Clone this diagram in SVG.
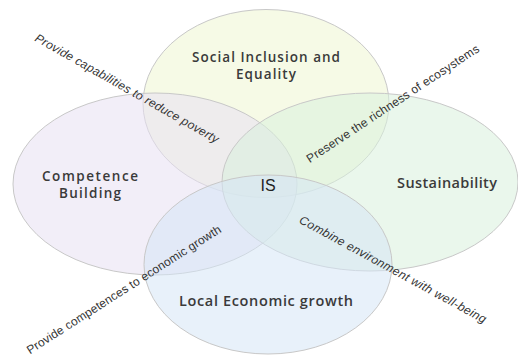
<svg xmlns="http://www.w3.org/2000/svg" width="518" height="357" viewBox="0 0 518 357">
  <style>
    .ell { stroke: #c8c8c8; stroke-width: 1; fill-opacity: 0.55; }
    .lbl { font-family: "Open Sans", "Liberation Sans", sans-serif; font-weight: 600; font-size: 14.5px; fill: #3a3a3a; text-anchor: middle; }
    .two { font-size: 13.5px; }
    .is { font-family: "Liberation Sans", Arial, sans-serif; font-size: 16px; fill: #222; text-anchor: middle; }
    .diag { font-family: "Liberation Sans", Arial, sans-serif; font-size: 12px; fill: #333; text-anchor: middle; }
    .it { font-style: italic; }
  </style>
  <rect width="518" height="357" fill="#ffffff"/>
  <g id="social">
    <ellipse class="ell" cx="266" cy="103.5" rx="123" ry="94" fill="#eef5d2"/>
  </g>
  <g id="competence">
    <ellipse class="ell" cx="155" cy="184" rx="142" ry="91" fill="#e7e0f3"/>
  </g>
  <g id="sustainability">
    <ellipse class="ell" cx="370" cy="182" rx="148" ry="89" fill="#d9f1dc"/>
  </g>
  <g id="economic">
    <ellipse class="ell" cx="268" cy="264.5" rx="124" ry="89.5" fill="#d6e6f5"/>
  </g>
  <g id="labels">
    <text class="lbl two"><tspan x="266" y="62" textLength="148" lengthAdjust="spacing">Social Inclusion and</tspan><tspan x="266" y="79" textLength="60" lengthAdjust="spacing">Equality</tspan></text>
    <text class="lbl two"><tspan x="90" y="181" textLength="96" lengthAdjust="spacing">Competence</tspan><tspan x="90" y="198" textLength="62" lengthAdjust="spacing">Building</tspan></text>
    <text class="lbl" x="447" y="188" textLength="100" lengthAdjust="spacing">Sustainability</text>
    <text class="lbl" x="266" y="306" textLength="174" lengthAdjust="spacing">Local Economic growth</text>
    <text class="is" x="268" y="191">IS</text>
  </g>
  <g id="connectors">
    <text class="diag it" transform="translate(125,92) rotate(29.5)" textLength="209" lengthAdjust="spacing">Provide capabilities to reduce poverty</text>
    <text class="diag" transform="translate(395,107) rotate(-33.4)" textLength="204" lengthAdjust="spacing">Preserve the richness of ecosystems</text>
    <text class="diag" transform="translate(126,293) rotate(-32.6)" textLength="228" lengthAdjust="spacing">Provide competences to economic growth</text>
    <text class="diag it" transform="translate(391,273) rotate(28.6)" textLength="211" lengthAdjust="spacing">Combine environment with well-being</text>
  </g>
</svg>
